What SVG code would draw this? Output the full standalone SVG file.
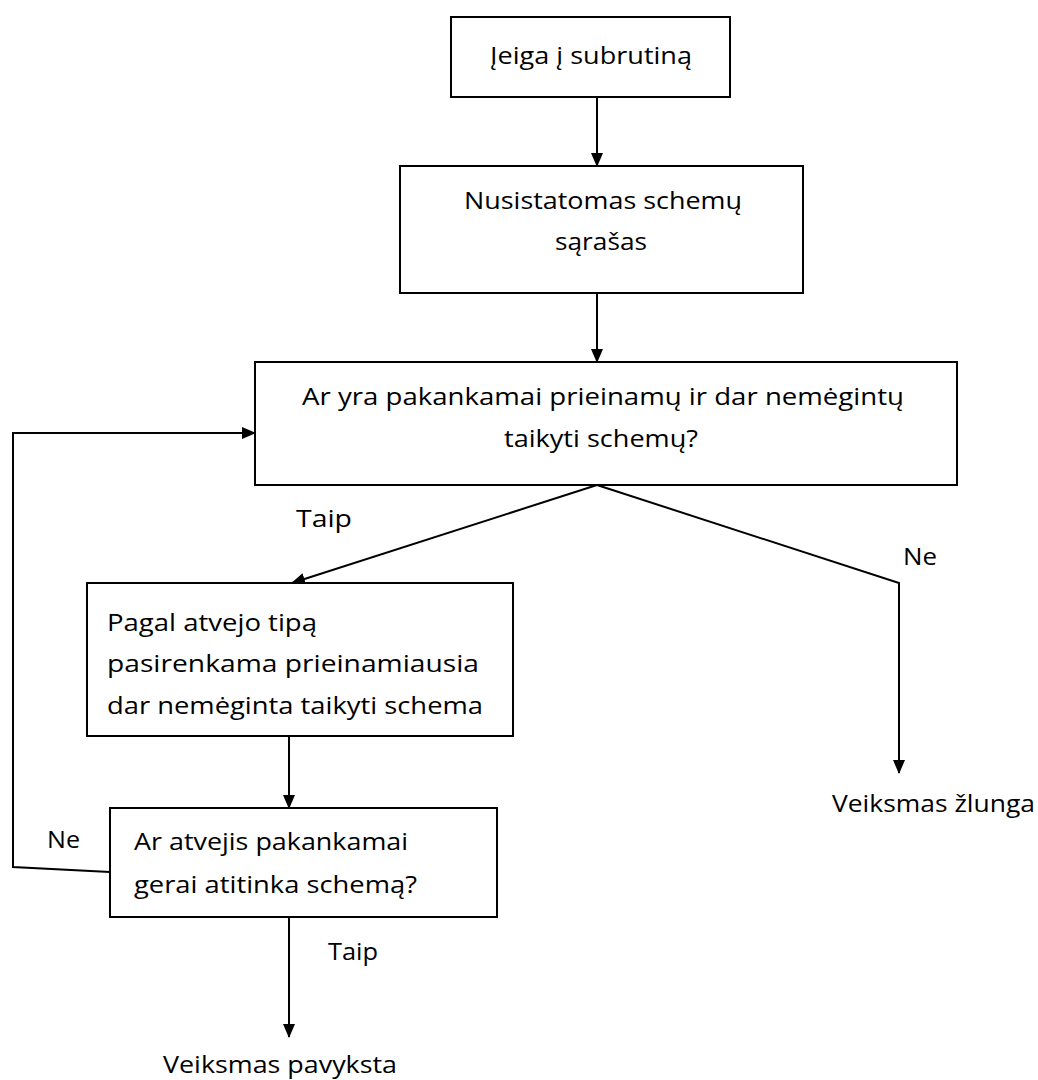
<svg xmlns="http://www.w3.org/2000/svg" width="1038" height="1080" viewBox="0 0 1038 1080">
<style>
.box{fill:#fff;stroke:#000;stroke-width:2}
.ln{fill:none;stroke:#000;stroke-width:2}
text{font-family:"Open Sans","Noto Sans",sans-serif;font-size:24px;fill:#000}
</style>
<defs>
<marker id="ah" markerWidth="14" markerHeight="14" refX="13" refY="7" orient="auto" markerUnits="userSpaceOnUse">
<path d="M0,1 L14,7 L0,13 Z" fill="#000"/>
</marker>
</defs>
<rect width="1038" height="1080" fill="#fff"/>
<g id="connectors">
<line class="ln" x1="597" y1="97" x2="597" y2="166" marker-end="url(#ah)"/>
<line class="ln" x1="597" y1="293" x2="597" y2="362" marker-end="url(#ah)"/>
<line class="ln" x1="597" y1="485" x2="292" y2="583" marker-end="url(#ah)"/>
<polyline class="ln" points="597,485 899,583 899,773" marker-end="url(#ah)"/>
<line class="ln" x1="289" y1="737" x2="289" y2="808" marker-end="url(#ah)"/>
<polyline class="ln" points="110,872 13,867 13,433 255,433" marker-end="url(#ah)"/>
<line class="ln" x1="289" y1="917" x2="289" y2="1037" marker-end="url(#ah)"/>
</g>
<g id="n1"><rect class="box" x="451" y="17" width="279" height="80"/><text x="490" y="64" textLength="202" lengthAdjust="spacingAndGlyphs">Įeiga į subrutiną</text></g>
<g id="n2"><rect class="box" x="400" y="166" width="403" height="127"/><text x="464" y="209" textLength="278" lengthAdjust="spacingAndGlyphs">Nusistatomas  schemų</text><text x="555" y="250" textLength="92" lengthAdjust="spacingAndGlyphs">sąrašas</text></g>
<g id="n3"><rect class="box" x="255" y="362" width="702" height="123"/><text x="302" y="405" textLength="602" lengthAdjust="spacingAndGlyphs">Ar yra pakankamai prieinamų ir dar nemėgintų</text><text x="504" y="447" textLength="194" lengthAdjust="spacingAndGlyphs">taikyti schemų?</text></g>
<g id="n4"><rect class="box" x="87" y="583" width="426" height="153"/><text x="107" y="631" textLength="210" lengthAdjust="spacingAndGlyphs">Pagal atvejo tipą</text><text x="107" y="672" textLength="372" lengthAdjust="spacingAndGlyphs">pasirenkama prieinamiausia</text><text x="107" y="714" textLength="376" lengthAdjust="spacingAndGlyphs">dar nemėginta taikyti schema</text></g>
<g id="n5"><rect class="box" x="110" y="808" width="387" height="109"/><text x="134" y="850" textLength="274" lengthAdjust="spacingAndGlyphs">Ar atvejis pakankamai</text><text x="134" y="893" textLength="283" lengthAdjust="spacingAndGlyphs">gerai atitinka schemą?</text></g>
<g id="labels">
<text x="296" y="527" textLength="56" lengthAdjust="spacingAndGlyphs">Taip</text>
<text x="903" y="565" textLength="34" lengthAdjust="spacingAndGlyphs">Ne</text>
<text x="47" y="848" textLength="33" lengthAdjust="spacingAndGlyphs">Ne</text>
<text x="328" y="960" textLength="50" lengthAdjust="spacingAndGlyphs">Taip</text>
<text x="832" y="812" textLength="203" lengthAdjust="spacingAndGlyphs">Veiksmas žlunga</text>
<text x="163" y="1073" textLength="234" lengthAdjust="spacingAndGlyphs">Veiksmas pavyksta</text>
</g>
</svg>
